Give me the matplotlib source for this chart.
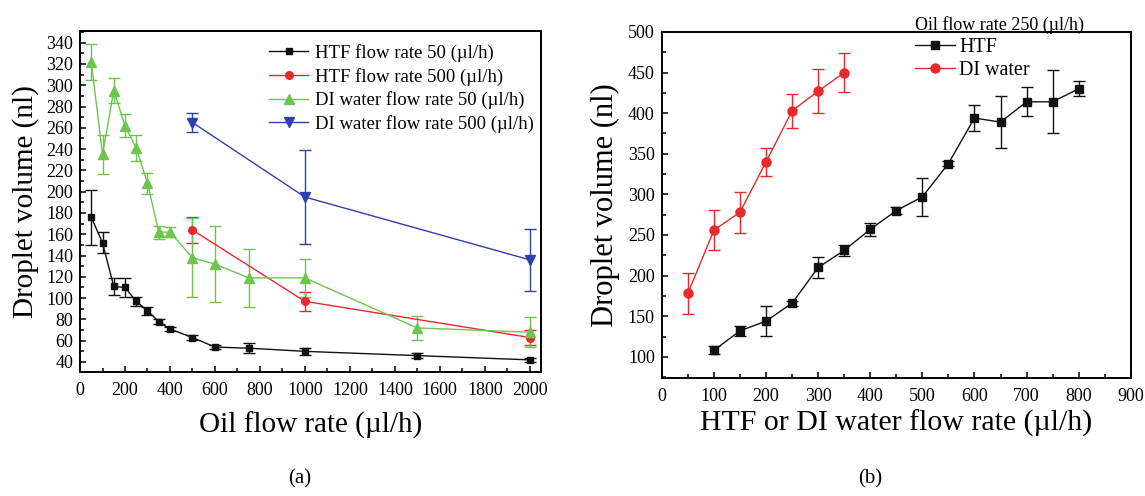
import numpy as np
import matplotlib.pyplot as plt
from matplotlib.ticker import MultipleLocator

plt.rcParams['font.family'] = ['Liberation Serif', 'DejaVu Serif']

# ------------------------------------------------------------
# (a) droplet volume vs oil flow rate
# ------------------------------------------------------------
oil_x = [50, 100, 150, 200, 250, 300, 350, 400, 500, 600, 750, 1000, 1500, 2000]

htf50_y   = [176, 152, 111, 110, 97, 88, 78, 71, 63, 54, 53, 50, 46, 42]
htf50_err = [26, 10, 8, 9, 4, 4, 2, 2, 2, 2, 5, 3, 2, 2]

htf500_x   = [500, 1000, 2000]
htf500_y   = [164, 97, 63]
htf500_err = [12, 9, 7]

di50_y   = [322, 235, 295, 262, 241, 208, 162, 162, 138, 132, 119, 119, 72, 68]
di50_err = [17, 18, 12, 11, 12, 10, 6, 5, 37, 36, 27, 18, 11, 14]

di500_x   = [500, 1000, 2000]
di500_y   = [265, 195, 136]
di500_err = [9, 44, 29]

labels_a = ['HTF flow rate 50 (µl/h)', 'HTF flow rate 500 (µl/h)',
            'DI water flow rate 50 (µl/h)', 'DI water flow rate 500 (µl/h)']

# ------------------------------------------------------------
# (b) droplet volume vs dispersed-phase flow rate (oil 250 ul/h)
# ------------------------------------------------------------
b_htf_x   = [100, 150, 200, 250, 300, 350, 400, 450, 500, 550, 600, 650, 700, 750, 800]
b_htf_y   = [108, 132, 144, 166, 210, 231, 257, 280, 297, 338, 394, 389, 414, 414, 430]
b_htf_err = [5, 6, 18, 3, 13, 7, 8, 4, 23, 3, 16, 32, 18, 39, 9]

b_di_x   = [50, 100, 150, 200, 250, 300, 350]
b_di_y   = [178, 256, 278, 340, 403, 427, 450]
b_di_err = [25, 25, 25, 17, 21, 27, 24]

labels_b = ['HTF', 'DI water']

BLACK = '#111111'
RED   = '#e8282b'
GREEN = '#6cc64e'
BLUE  = '#2f3fae'

fig = plt.figure(figsize=(11.45, 4.96), dpi=100)
ax1 = fig.add_axes([0.0699, 0.25, 0.4026, 0.6875])
ax2 = fig.add_axes([0.578, 0.238, 0.4096, 0.6976])


def series(ax, x, y, err, color, marker, ms):
    # returns the data line only, so the legend shows line + marker
    cont = ax.errorbar(x, y, yerr=err, color=color, marker=marker, ms=ms,
                       mec=color, mfc=color, lw=1.0, elinewidth=1.0,
                       capsize=4.5, capthick=1.0)
    return cont[0]


h1 = [
    series(ax1, oil_x, htf50_y, htf50_err, BLACK, 's', 5),
    series(ax1, htf500_x, htf500_y, htf500_err, RED, 'o', 5.5),
    series(ax1, oil_x, di50_y, di50_err, GREEN, '^', 7.5),
    series(ax1, di500_x, di500_y, di500_err, BLUE, 'v', 7.5),
]

h2 = [
    series(ax2, b_htf_x, b_htf_y, b_htf_err, BLACK, 's', 5.5),
    series(ax2, b_di_x, b_di_y, b_di_err, RED, 'o', 6.5),
]

for ax in (ax1, ax2):
    for s in ax.spines.values():
        s.set_linewidth(1.4)
    ax.tick_params(which='both', direction='in', top=False, right=False,
                   labelsize=13, width=1.1)
    ax.tick_params(which='major', length=4.5)
    ax.tick_params(which='minor', length=3)
    ax.tick_params(axis='x', pad=7)
    ax.tick_params(axis='y', pad=5)

ax1.set_xlim(0, 2050)
ax1.set_ylim(30.6, 351)
ax1.xaxis.set_major_locator(MultipleLocator(200))
ax1.xaxis.set_minor_locator(MultipleLocator(100))
ax1.yaxis.set_major_locator(MultipleLocator(20))
ax1.yaxis.set_minor_locator(MultipleLocator(10))
ax1.set_xlabel('Oil flow rate (µl/h)', fontsize=21, labelpad=9)
ax1.set_ylabel('Droplet volume (nl)', fontsize=21, labelpad=5)
ax1.legend(h1, labels_a, loc='upper left', bbox_to_anchor=(0.235, 0.911),
           bbox_transform=fig.transFigure, fontsize=13.5, frameon=False,
           handlelength=2.1, handletextpad=0.35, labelspacing=0.3,
           borderpad=0, borderaxespad=0)

ax2.set_xlim(0, 900)
ax2.set_ylim(74, 500)
ax2.xaxis.set_major_locator(MultipleLocator(100))
ax2.xaxis.set_minor_locator(MultipleLocator(50))
ax2.yaxis.set_major_locator(MultipleLocator(50))
ax2.yaxis.set_minor_locator(MultipleLocator(25))
ax2.set_xlabel('HTF or DI water flow rate (µl/h)', fontsize=21.5, labelpad=3.5)
ax2.set_ylabel('Droplet volume (nl)', fontsize=22, labelpad=6)
leg = ax2.legend(h2, labels_b, loc='upper left', bbox_to_anchor=(0.799, 0.968),
                 bbox_transform=fig.transFigure, fontsize=14.5, frameon=False,
                 handlelength=2.0, handletextpad=0.2, labelspacing=0.2,
                 borderpad=0, borderaxespad=0,
                 title='Oil flow rate 250 (µl/h)', title_fontsize=13)
leg._legend_box.align = 'left'

fig.text(0.262, 0.026, '(a)', fontsize=15, ha='center')
fig.text(0.760, 0.026, '(b)', fontsize=15, ha='center')

fig.savefig('out.png', dpi=100)
